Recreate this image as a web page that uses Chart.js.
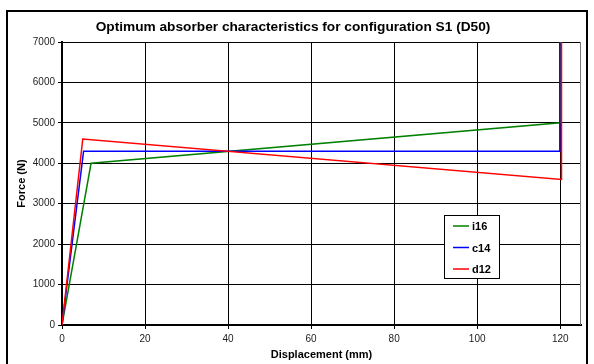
<!DOCTYPE html>
<html>
<head>
<meta charset="utf-8">
<script src="https://cdn.jsdelivr.net/npm/chart.js@4.4.0/dist/chart.umd.min.js"></script>
<style>
  body { margin: 0; background: #fff; }
  canvas { display: block; }
</style>
</head>
<body>
<canvas id="myChart" width="594" height="364"></canvas>
<script>
// series (displacement mm, force N)
var labels = ['i16', 'c14', 'd12'];
var colors = ['#008000', '#0000ff', '#ff0000'];
var i16X = [0, 7, 120, 120];
var i16Y = [0, 4000, 5000, 8000];
var c14X = [0, 5.2, 119.9, 119.9];
var c14Y = [0, 4300, 4300, 8000];
var d12X = [0, 5, 120.3, 120.3];
var d12Y = [0, 4600, 3600, 8000];
var xTicks = [0, 20, 40, 60, 80, 100, 120];
var yTicks = [0, 1000, 2000, 3000, 4000, 5000, 6000, 7000];

var FONT = '"Liberation Sans", Arial, sans-serif';

function pts(xs, ys) {
    var out = [];
    for (var i = 0; i < xs.length; i++) out.push({x: xs[i], y: ys[i]});
    return out;
}

var frame = {
    id: 'frame',
    beforeDatasetsDraw: function (chart) {
        var c = chart.ctx, a = chart.chartArea;
        c.save();
        c.lineWidth = 1;
        c.strokeStyle = '#000';
        c.beginPath();
        c.moveTo(a.left, a.top + 0.5);
        c.lineTo(a.right, a.top + 0.5);
        c.stroke();
        c.strokeStyle = '#777';
        c.beginPath();
        c.moveTo(a.right - 0.5, a.top);
        c.lineTo(a.right - 0.5, a.bottom);
        c.stroke();
        c.restore();
    },
    afterDraw: function (chart) {
        var c = chart.ctx;
        c.save();
        // outer border
        c.strokeStyle = '#000';
        c.lineWidth = 2;
        c.strokeRect(7, 11, 580, 362);
        // title
        c.fillStyle = '#000';
        c.font = 'bold 13.7px ' + FONT;
        c.textAlign = 'center';
        c.textBaseline = 'middle';
        c.fillText('Optimum absorber characteristics for configuration S1 (D50)', 293, 27);
        // legend box
        var lx = 444, ly = 215, lw = 55, lh = 63;
        c.fillStyle = '#fff';
        c.fillRect(lx, ly, lw, lh);
        c.strokeStyle = '#000';
        c.lineWidth = 1;
        c.strokeRect(lx + 0.5, ly + 0.5, lw, lh);
        c.font = 'bold 11px ' + FONT;
        c.textAlign = 'left';
        for (var i = 0; i < labels.length; i++) {
            var yy = ly + 11 + i * 21.5;
            c.strokeStyle = colors[i];
            c.lineWidth = 1.5;
            c.beginPath();
            c.moveTo(lx + 9, yy);
            c.lineTo(lx + 25, yy);
            c.stroke();
            c.fillStyle = '#000';
            c.fillText(labels[i], lx + 28, yy + 1);
        }
        c.restore();
    }
};

var ctx = document.getElementById('myChart').getContext('2d');
var chart = new Chart(ctx, {
    type: 'line',
    data: {
        datasets: [
            { label: labels[0], data: pts(i16X, i16Y), borderColor: colors[0], order: 2 },
            { label: labels[1], data: pts(c14X, c14Y), borderColor: colors[1], order: 1 },
            { label: labels[2], data: pts(d12X, d12Y), borderColor: colors[2], order: 0 }
        ]
    },
    options: {
        responsive: false,
        animation: false,
        events: [],
        elements: {
            line: { borderWidth: 1.5, tension: 0, fill: false },
            point: { radius: 0 }
        },
        layout: { padding: { left: 10, right: 13, top: 42, bottom: 2 } },
        plugins: { legend: { display: false }, title: { display: false }, tooltip: { enabled: false } },
        scales: {
            x: {
                type: 'linear',
                min: 0,
                max: 125,
                afterBuildTicks: function (s) { s.ticks = xTicks.map(function (v) { return {value: v}; }); },
                afterFit: function (s) { s.height = 37; },
                grid: { color: '#000', lineWidth: 1, tickLength: 4 },
                border: { color: '#000', width: 2 },
                ticks: { color: '#222', font: { family: FONT, size: 10 }, padding: 4, maxRotation: 0,
                         callback: function (v) { return String(v); } },
                title: { display: true, text: 'Displacement (mm)', color: '#000',
                         font: { family: FONT, size: 11, weight: 'bold' }, padding: { top: 0, bottom: 0 } }
            },
            y: {
                min: 0,
                max: 7000,
                afterBuildTicks: function (s) { s.ticks = yTicks.map(function (v) { return {value: v}; }); },
                afterFit: function (s) { s.width = 52; },
                grid: { color: '#000', lineWidth: 1, tickLength: 4 },
                border: { color: '#000', width: 2 },
                ticks: { color: '#222', font: { family: FONT, size: 10 }, padding: 3,
                         callback: function (v) { return String(v); } },
                title: { display: true, text: 'Force (N)', color: '#000',
                         font: { family: FONT, size: 11, weight: 'bold' }, padding: { top: 5, bottom: 0 } }
            }
        }
    },
    plugins: [frame]
});
</script>
</body>
</html>
